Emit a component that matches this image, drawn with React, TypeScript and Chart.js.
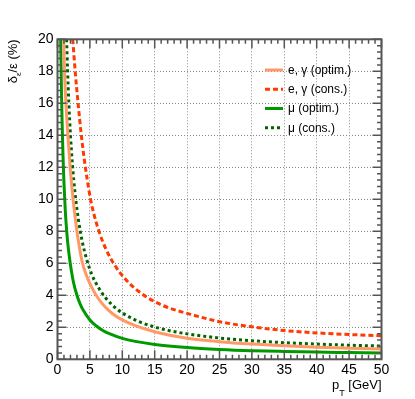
import React, { useEffect, useRef } from 'react';
import { Chart, registerables } from 'chart.js';

Chart.register(...registerables);

// ---- data ----
const egOptX = [0.95, 1.1, 1.3, 1.6, 1.95, 2.4, 3.0, 3.8, 4.5, 5.4, 6.3, 7.3, 8.5, 10, 12, 15, 20, 25, 30, 35, 40, 45, 50];
const egOptY = [20, 17.8, 16.0, 14.0, 12.0, 10.0, 8.0, 6.1, 5.2, 4.4, 3.8, 3.3, 2.85, 2.46, 2.1, 1.72, 1.32, 1.1, 0.95, 0.84, 0.75, 0.69, 0.64];

const egConsX = [2.35, 2.75, 3.2, 3.65, 4.1, 4.6, 5.1, 5.7, 6.4, 7.4, 8.8, 10.5, 12.5, 15, 17.5, 20, 25, 30, 35, 40, 45, 50];
const egConsY = [20, 17.9, 15.9, 14.1, 12.6, 11.2, 10.0, 8.95, 8.0, 6.95, 5.9, 5.0, 4.25, 3.6, 3.17, 2.87, 2.35, 2.03, 1.8, 1.65, 1.55, 1.47];

const muOptX = [0.48, 0.55, 0.62, 0.7, 0.8, 0.9, 1.0, 1.2, 1.4, 1.6, 1.8, 2.0, 2.5, 3, 3.5, 4, 5, 6, 7, 8, 10, 12, 15, 20, 25, 30, 35, 40, 45, 50];
const muOptY = [20, 18.3, 16.6, 15.0, 13.4, 12.1, 11.0, 9.3, 8.1, 7.2, 6.5, 5.9, 4.75, 4.0, 3.45, 3.05, 2.46, 2.08, 1.8, 1.6, 1.31, 1.12, 0.93, 0.74, 0.62, 0.54, 0.49, 0.45, 0.42, 0.39];

const muConsX = [1.4, 1.55, 1.75, 2.0, 2.3, 2.7, 3.2, 3.8, 4.5, 5.3, 6.3, 7.5, 9, 10, 12.5, 15, 17.5, 20, 25, 30, 35, 40, 45, 50];
const muConsY = [20, 18.1, 16.0, 14.0, 12.2, 10.4, 8.8, 7.4, 6.25, 5.3, 4.5, 3.8, 3.2, 2.9, 2.37, 2.02, 1.77, 1.59, 1.33, 1.16, 1.04, 0.95, 0.88, 0.83];

const seriesLabels = ['e, γ (optim.)', 'e, γ (cons.)', 'μ (optim.)', 'μ (cons.)'];

const xTickValues = [0, 5, 10, 15, 20, 25, 30, 35, 40, 45, 50];
const yTickValues = [0, 2, 4, 6, 8, 10, 12, 14, 16, 18, 20];

const FONT = '"Liberation Sans", Arial, Helvetica, sans-serif';
const FRAME = '#555555';

const toPts = (xs: number[], ys: number[]) => xs.map((x, i) => ({ x, y: ys[i] }));

const rootStyle = {
  id: 'rootStyle',
  afterDatasetsDraw(chart: any) {
    const ctx = chart.ctx as CanvasRenderingContext2D;
    const { left, right, top, bottom } = chart.chartArea;
    const xs = chart.scales.x;
    const ys = chart.scales.y;
    ctx.save();
    ctx.strokeStyle = FRAME;
    ctx.lineWidth = 1.5;
    ctx.beginPath();
    for (let v = 0; v <= 50; v += 1) {
      const px = xs.getPixelForValue(v);
      const len = v % 5 === 0 ? 9 : 4.5;
      ctx.moveTo(px, bottom); ctx.lineTo(px, bottom - len);
      ctx.moveTo(px, top); ctx.lineTo(px, top + len);
    }
    for (let i = 0; i <= 50; i++) {
      const v = i * 0.4;
      const py = ys.getPixelForValue(v);
      const len = i % 5 === 0 ? 9 : 4.5;
      ctx.moveTo(left, py); ctx.lineTo(left + len, py);
      ctx.moveTo(right, py); ctx.lineTo(right - len, py);
    }
    ctx.stroke();
    ctx.lineWidth = 2;
    ctx.strokeRect(left, top, right - left, bottom - top);
    ctx.restore();
  },
  afterDraw(chart: any) {
    const ctx = chart.ctx as CanvasRenderingContext2D;
    const { right, top } = chart.chartArea;
    ctx.save();
    ctx.fillStyle = '#000';
    // x title: p_T [GeV]
    ctx.textBaseline = 'alphabetic';
    ctx.font = `13px ${FONT}`;
    const wP = ctx.measureText('p').width;
    const wRest = ctx.measureText(' [GeV]').width;
    ctx.font = `9px ${FONT}`;
    const wT = ctx.measureText('T').width;
    const total = wP + wT + wRest;
    const x0 = right - total;
    const base = 389;
    ctx.font = `13px ${FONT}`;
    ctx.fillText('p', x0, base);
    ctx.font = `9px ${FONT}`;
    ctx.fillText('T', x0 + wP, base + 7);
    ctx.font = `13px ${FONT}`;
    ctx.fillText(' [GeV]', x0 + wP + wT, base);

    // y title: δ_ε/ε (%)
    ctx.save();
    ctx.translate(17, top);
    ctx.rotate(-Math.PI / 2);
    ctx.font = `13px ${FONT}`;
    const wd = ctx.measureText('δ').width;
    const wr = ctx.measureText('/ε (%)').width;
    ctx.font = `8px ${FONT}`;
    const we = ctx.measureText('ε').width;
    const tot = wd + we + wr;
    const sx = -tot;
    ctx.font = `13px ${FONT}`;
    ctx.fillText('δ', sx, 0);
    ctx.font = `8px ${FONT}`;
    ctx.fillText('ε', sx + wd, 4);
    ctx.font = `13px ${FONT}`;
    ctx.fillText('/ε (%)', sx + wd + we, 0);
    ctx.restore();

    // legend
    const ly = [70, 89.3, 108.5, 127.7];
    chart.data.datasets.forEach((ds: any, i: number) => {
      const y = ly[i];
      ctx.save();
      ctx.strokeStyle = ds.borderColor;
      ctx.lineWidth = ds.borderWidth;
      ctx.setLineDash(ds.borderDash || []);
      ctx.beginPath();
      ctx.moveTo(265, y);
      ctx.lineTo(283, y);
      ctx.stroke();
      ctx.restore();
      ctx.font = `12px ${FONT}`;
      ctx.textBaseline = 'middle';
      ctx.fillStyle = '#000';
      ctx.fillText(ds.label, 288, y + 0.5);
    });
    ctx.restore();
  },
};

export default function App() {
  const ref = useRef<HTMLCanvasElement | null>(null);
  useEffect(() => {
    if (!ref.current) return;
    const lineDs = (label: string, xs: number[], ys: number[], color: string, dash: number[]) => ({
      label,
      data: toPts(xs, ys),
      borderColor: color,
      backgroundColor: color,
      borderWidth: 3,
      borderDash: dash,
      pointRadius: 0,
      fill: false,
      cubicInterpolationMode: 'monotone' as const,
    });
    const chart = new Chart(ref.current, {
      type: 'line',
      data: {
        datasets: [
          lineDs(seriesLabels[0], egOptX, egOptY, '#ff9966', []),
          lineDs(seriesLabels[1], egConsX, egConsY, '#ff3a00', [5, 3]),
          lineDs(seriesLabels[2], muOptX, muOptY, '#009a00', []),
          lineDs(seriesLabels[3], muConsX, muConsY, '#006400', [3, 3]),
        ],
      },
      options: {
        animation: false,
        responsive: false,
        devicePixelRatio: 1,
        layout: { padding: { left: 0, top: 39.3, right: 33.5, bottom: 0 } },
        plugins: { legend: { display: false }, tooltip: { enabled: false } },
        scales: {
          x: {
            type: 'linear',
            min: 0,
            max: 50,
            afterFit: (s: any) => { s.height = 39.7; },
            afterBuildTicks: (s: any) => { s.ticks = xTickValues.map((v) => ({ value: v })); },
            grid: { color: '#8a8a8a', lineWidth: 1, drawTicks: false },
            border: { display: false, dash: [1, 2] },
            ticks: { font: { family: FONT, size: 14 }, color: '#000', padding: 2, maxRotation: 0, autoSkip: false },
          },
          y: {
            type: 'linear',
            min: 0,
            max: 20,
            afterFit: (s: any) => { s.width = 57.5; },
            afterBuildTicks: (s: any) => { s.ticks = yTickValues.map((v) => ({ value: v })); },
            grid: { color: '#8a8a8a', lineWidth: 1, drawTicks: false },
            border: { display: false, dash: [1, 2] },
            ticks: { font: { family: FONT, size: 14 }, color: '#000', padding: 4, autoSkip: false },
          },
        },
      },
      plugins: [rootStyle],
    });
    return () => chart.destroy();
  }, []);
  return (
    <div style={{ position: 'fixed', left: 0, top: 0, width: 415, height: 399, background: '#fff' }}>
      <canvas ref={ref} width={415} height={399} style={{ display: 'block', width: 415, height: 399 }} />
    </div>
  );
}
